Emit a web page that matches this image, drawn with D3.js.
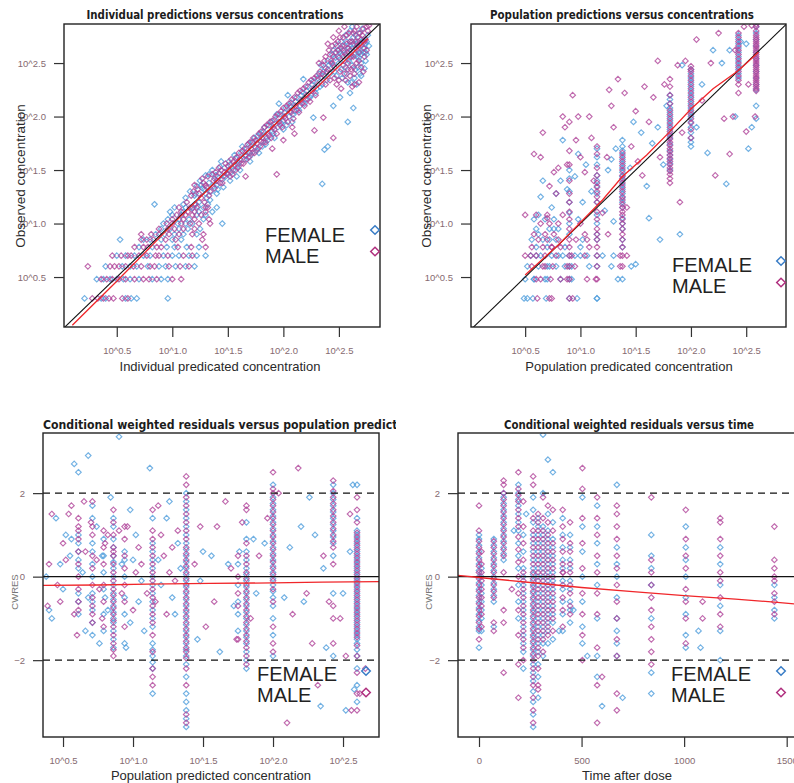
<!DOCTYPE html>
<html><head><meta charset="utf-8">
<script src="https://cdn.jsdelivr.net/npm/d3@7"></script>
<style>body{margin:0;background:#fff} svg{display:block}</style>
</head><body><svg id="c" width="794" height="783"></svg>
<script>
// ---------- data (log10 concentrations, CWRES, time after dose) ----------
const SEXES = ["FEMALE", "MALE"];
const LOG_TICKS = [0.5, 1.0, 1.5, 2.0, 2.5];
const CWRES_TICKS = [-2, 0, 2];
const TIME_TICKS = [0, 500, 1000, 1500];

// Individual predictions vs observed: low observations come in integer steps (rows: [logObs, [logIpred...]])
const indivRowsFemale = [
  [0.30,[0.21,0.36,0.40,0.58,0.63,0.68,0.96]],
  [0.48,[0.32,0.38,0.44,0.50,0.56,0.62,0.70,0.82,0.90,0.96]],
  [0.60,[0.40,0.55,0.62,0.68,0.78,0.88,0.94,1.03,1.12,1.20]],
  [0.70,[0.50,0.58,0.66,0.74,0.80,0.92,1.00,1.06,1.15,1.22,1.30]],
  [0.78,[0.70,0.82,0.95,1.02,1.13,1.24]],
  [0.85,[0.53,0.74,0.80,0.90,1.00,1.08]],
  [0.90,[0.85,0.93,1.02,1.10,1.22]],
  [0.95,[0.90,0.98,1.06,1.14,1.25]],
  [1.00,[0.92,1.05,1.12,1.18,1.45]],
  [1.04,[0.96,1.06,1.15,1.28]],
  [1.08,[1.00,1.08,1.22,1.30]],
  [1.11,[0.98,1.10,1.24,1.36]],
  [1.15,[1.02,1.12,1.18,1.28,1.40]],
  [1.18,[0.84,1.10,1.20,1.32]]
];
const indivRowsMale = [
  [0.30,[0.28,0.33,0.38,0.43,0.47,0.55,0.60]],
  [0.48,[0.36,0.41,0.46,0.52,0.58,0.66,0.74,0.79,0.86,1.00,1.08]],
  [0.60,[0.24,0.44,0.48,0.52,0.58,0.65,0.72,0.80,0.84,0.97,1.07,1.15]],
  [0.70,[0.46,0.54,0.60,0.63,0.70,0.77,0.85,0.88,0.96,1.10,1.18]],
  [0.78,[0.66,0.74,0.78,0.86,0.90,1.05,1.17,1.30]],
  [0.85,[0.72,0.77,0.83,0.94,1.03,1.27]],
  [0.90,[0.72,0.81,0.88,0.97,1.06,1.18,1.28]],
  [0.95,[0.88,0.96,1.02,1.10,1.20]],
  [1.00,[0.95,1.00,1.08,1.16,1.24,1.34]],
  [1.04,[1.00,1.10,1.20,1.33]],
  [1.08,[1.04,1.12,1.18,1.26]],
  [1.11,[1.08,1.14,1.20,1.30]],
  [1.15,[1.06,1.16,1.22,1.32]]
];
// [logIpred, logObs]
const indivFemale = [
  [1.20,1.26],[1.22,1.35],[1.24,1.20],[1.25,1.40],[1.27,1.33],[1.30,1.28],[1.30,1.45],[1.33,1.38],[1.34,1.22],[1.35,1.30],
  [1.36,1.50],[1.38,1.42],[1.40,1.36],[1.40,1.28],[1.42,1.47],[1.44,1.58],[1.45,1.41],[1.46,1.34],[1.47,1.52],[1.50,1.46],
  [1.52,1.55],[1.52,1.40],[1.55,1.50],[1.57,1.61],[1.58,1.44],[1.60,1.57],[1.62,1.66],[1.65,1.60],[1.67,1.70],[1.70,1.66],
  [1.70,1.58],[1.72,1.76],[1.75,1.71],[1.77,1.82],[1.78,1.66],[1.80,1.77],[1.82,1.86],[1.84,1.74],[1.85,1.80],[1.87,1.92],
  [1.90,1.86],[1.92,1.97],[1.92,1.80],[1.95,1.90],[1.96,2.12],[1.97,2.02],[2.00,1.96],[2.00,1.88],[2.02,2.08],[2.04,2.20],
  [2.05,2.00],[2.07,2.13],[2.08,1.95],[2.10,2.05],[2.12,2.18],[2.15,2.10],[2.17,2.23],[2.18,2.35],[2.20,2.16],[2.22,2.28],
  [2.25,2.20],[2.27,2.33],[2.27,1.99],[2.30,2.26],[2.32,2.40],[2.35,2.30],[2.35,1.37],[2.37,1.69],[2.40,1.72],[2.45,2.10],
  [2.51,2.18],[2.58,1.95],[2.63,2.08],[2.60,2.22],
  [2.38,2.45],[2.40,2.52],[2.42,2.40],[2.44,2.58],[2.45,2.48],[2.47,2.55],[2.48,2.38],[2.50,2.62],[2.50,2.50],[2.52,2.44],
  [2.53,2.58],[2.55,2.66],[2.55,2.52],[2.57,2.40],[2.58,2.60],[2.60,2.70],[2.60,2.55],[2.62,2.48],[2.62,2.64],[2.63,2.74],
  [2.64,2.58],[2.65,2.44],[2.66,2.68],[2.67,2.62],[2.68,2.55],[2.68,2.78],[2.70,2.66],[2.70,2.50],[2.72,2.72],[2.72,2.60],
  [2.73,2.45],[2.74,2.68],[2.75,2.58],[2.76,2.76],[2.58,2.32],[2.64,2.36],[2.70,2.38],[2.66,2.30],[2.52,2.70],[2.56,2.76],
  [2.60,2.80],[2.48,2.66],[2.45,2.62],[2.43,2.50],[2.36,2.42],[2.34,2.48],[2.62,2.84],[2.71,2.82],[2.69,2.40],[2.74,2.52],
  [1.12,1.24],[1.16,1.30],[1.18,1.14],[1.21,1.28],[1.23,1.16],[1.26,1.36],[1.29,1.32],[1.31,1.24],[1.33,1.46],[1.37,1.35],
  [1.39,1.45],[1.41,1.32],[1.43,1.53],[1.48,1.44],[1.51,1.58],[1.53,1.48],[1.56,1.64],[1.59,1.55],[1.61,1.50],[1.63,1.72],
  [1.66,1.63],[1.69,1.75],[1.71,1.64],[1.74,1.80],[1.76,1.68],[1.79,1.84],[1.81,1.72],[1.83,1.90],[1.86,1.78],[1.89,1.95],
  [1.91,1.84],[1.94,2.02],[1.98,1.94],[2.01,2.04],[2.03,1.92],[2.06,2.10],[2.09,2.02],[2.11,2.14],[2.14,2.06],[2.16,2.20],
  [2.19,2.12],[2.21,2.24],[2.24,2.18],[2.26,2.30],[2.29,2.22],[2.31,2.36],[2.33,2.28],[2.37,2.38],[2.39,2.34],[2.41,2.48],
  [2.46,2.42],[2.49,2.56],[2.51,2.60],[2.54,2.62],[2.57,2.70],[2.59,2.64],[2.61,2.58],[2.63,2.68],[2.65,2.76],[2.67,2.70],
  [2.69,2.60],[2.71,2.70],[2.73,2.64],[2.75,2.70],[2.77,2.66],[2.56,2.46],[2.59,2.52],[2.66,2.56],[2.53,2.36],[2.61,2.32],
  [2.70,2.58],[2.67,2.46],[2.74,2.60]
];
const indivMale = [
  [1.19,1.30],[1.21,1.18],[1.23,1.32],[1.26,1.24],[1.28,1.38],[1.29,1.20],[1.31,1.34],[1.32,1.44],[1.34,1.30],[1.37,1.40],
  [1.38,1.33],[1.39,1.48],[1.41,1.44],[1.43,1.38],[1.44,1.50],[1.46,1.44],[1.48,1.56],[1.49,1.47],[1.51,1.50],[1.53,1.60],
  [1.54,1.46],[1.56,1.55],[1.58,1.62],[1.59,1.52],[1.61,1.60],[1.63,1.68],[1.64,1.56],[1.66,1.64],[1.68,1.74],[1.69,1.62],
  [1.71,1.70],[1.73,1.80],[1.74,1.66],[1.76,1.75],[1.78,1.84],[1.79,1.72],[1.81,1.80],[1.83,1.90],[1.84,1.76],[1.86,1.84],
  [1.88,1.95],[1.89,1.80],[1.91,1.90],[1.93,2.00],[1.94,1.84],[1.96,1.95],[1.98,2.05],[1.99,1.90],[2.01,2.00],[2.03,2.10],
  [2.04,1.95],[2.06,2.05],[2.08,2.16],[2.09,1.98],[2.11,2.10],[2.13,2.22],[2.14,2.04],[2.16,2.15],[2.18,2.26],[2.19,2.10],
  [2.21,2.20],[2.23,2.32],[2.24,2.14],[2.26,2.24],[2.28,2.36],[2.29,2.20],[2.31,2.30],[2.33,2.42],[2.08,1.90],[1.94,1.46],
  [2.28,1.87],[2.45,1.80],[2.36,1.99],[2.10,1.84],[1.90,1.70],[1.30,1.15],[1.66,1.44],[2.00,1.78],
  [2.36,2.48],[2.38,2.56],[2.40,2.44],[2.41,2.62],[2.43,2.52],[2.44,2.66],[2.46,2.46],[2.47,2.60],[2.49,2.70],[2.50,2.55],
  [2.51,2.42],[2.52,2.64],[2.54,2.74],[2.54,2.48],[2.56,2.58],[2.57,2.68],[2.58,2.50],[2.59,2.78],[2.60,2.62],[2.61,2.44],
  [2.62,2.70],[2.63,2.56],[2.64,2.80],[2.65,2.64],[2.66,2.50],[2.67,2.74],[2.68,2.60],[2.69,2.68],[2.70,2.46],[2.71,2.76],
  [2.72,2.64],[2.73,2.56],[2.74,2.72],[2.75,2.62],[2.76,2.80],[2.77,2.85],[2.56,2.34],[2.62,2.28],[2.68,2.32],[2.52,2.26],
  [2.46,2.36],[2.50,2.80],[2.45,2.74],[2.40,2.68],[2.55,2.84],[2.66,2.84],[2.60,2.38],[2.72,2.42],[2.48,2.30],[2.42,2.34],
  [2.64,2.40],[2.35,2.40],[2.32,2.50],[2.38,2.30],
  [1.13,1.20],[1.17,1.26],[1.20,1.36],[1.24,1.28],[1.27,1.42],[1.30,1.36],[1.33,1.26],[1.36,1.46],[1.40,1.40],[1.42,1.52],
  [1.45,1.38],[1.47,1.48],[1.50,1.54],[1.52,1.44],[1.55,1.58],[1.57,1.50],[1.60,1.66],[1.62,1.56],[1.65,1.70],[1.67,1.60],
  [1.70,1.76],[1.72,1.66],[1.75,1.78],[1.77,1.70],[1.80,1.86],[1.82,1.76],[1.85,1.92],[1.87,1.82],[1.90,1.96],[1.92,1.88],
  [1.95,2.02],[1.97,1.92],[2.00,2.08],[2.02,1.98],[2.05,2.12],[2.07,2.04],[2.10,2.18],[2.12,2.06],[2.15,2.24],[2.17,2.12],
  [2.20,2.28],[2.22,2.16],[2.25,2.34],[2.27,2.26],[2.30,2.38],[2.34,2.36],[2.37,2.52],[2.39,2.42],[2.42,2.58],[2.44,2.50],
  [2.47,2.68],[2.49,2.62],[2.51,2.74],[2.53,2.66],[2.55,2.60],[2.57,2.76],[2.58,2.64],[2.60,2.70],[2.61,2.56],[2.63,2.78],
  [2.65,2.70],[2.67,2.66],[2.69,2.78],[2.70,2.72],[2.72,2.82],[2.73,2.70],[2.75,2.84],[2.58,2.44],[2.63,2.46],[2.55,2.40],
  [2.68,2.52],[2.64,2.30],[2.50,2.34],[2.45,2.56],[2.54,2.56]
];
const indivSmoothX = [0.10, 0.50, 1.00, 1.50, 2.00, 2.30, 2.50, 2.76];
const indivSmoothY = [0.05, 0.46, 0.99, 1.50, 2.00, 2.27, 2.47, 2.73];

// Population predictions vs observed
// low observations in integer steps: [logObs, [logPred...]]
const popRowsFemale = [
  [0.30,[0.49,0.57,0.69,0.97,1.15]],
  [0.48,[0.50,0.58,0.68,0.82,0.92,1.34,1.38]],
  [0.60,[0.52,0.62,0.70,0.78,0.92,1.28,1.46]],
  [0.70,[0.55,0.64,0.74,0.84,0.95,1.06,1.30]],
  [0.78,[0.60,0.70,0.86,1.00]],
  [0.85,[0.56,0.66,0.78,1.02]],
  [0.95,[0.60,0.72,0.80]],
  [1.04,[0.58,0.68,0.76,0.98]]
];
const popRowsMale = [
  [0.30,[0.61,0.72,0.74,0.93]],
  [0.48,[0.64,0.73,0.88,1.06,1.14]],
  [0.60,[0.56,0.66,0.75,0.88,0.95,1.36]],
  [0.70,[0.50,0.60,0.68,0.78,0.92,1.04,1.36,1.42]],
  [0.78,[0.56,0.66,0.74,0.82,1.08]],
  [0.85,[0.62,0.70,0.80,0.96]],
  [0.90,[0.58,0.68,0.76,1.04,1.25]],
  [1.00,[0.64,0.72,0.80,1.00]],
  [1.08,[0.60,0.70,0.84]]
];
// columns [logPred, female logObs, male logObs]
const popColumns = [
  [0.90,[0.30,0.48,0.60,0.70,0.90,1.00,1.10,1.20,1.30,1.42,1.50],[0.30,0.48,0.60,0.70,0.78,0.85,0.95,1.04,1.11,1.20,1.28,1.40,1.55,1.68,1.95]],
  [1.15,[0.30,0.60,0.70,0.85,0.90,1.00,1.08,1.20,1.28,1.35,1.40,1.45,1.55,1.62,1.70],[0.48,0.60,0.70,0.78,0.85,0.90,0.95,1.04,1.11,1.20,1.25,1.30,1.34,1.38,1.45,1.52,1.65,1.72]],
  [1.38,[0.78,0.85,0.95,1.00,1.05,1.15,1.20,1.24,1.28,1.32,1.36,1.40,1.44,1.48,1.52,1.56,1.60,1.64,1.68,1.72,1.78],[0.60,0.70,0.78,0.85,0.90,0.95,1.00,1.04,1.08,1.11,1.15,1.18,1.22,1.25,1.30,1.34,1.38,1.42,1.45,1.50,1.54,1.58,1.62,1.66]],
  [1.81,[1.50,1.56,1.60,1.64,1.68,1.74,1.80,1.84,1.88,1.92,1.96,2.00,2.04,2.08,2.12,2.16,2.20],[1.38,1.42,1.46,1.49,1.52,1.55,1.58,1.61,1.64,1.67,1.70,1.73,1.76,1.79,1.82,1.86,1.90,1.94,1.98,2.02,2.06,2.12,2.20,2.28,2.35]],
  [2.00,[1.72,1.76,1.80,1.85,1.90,1.95,2.00,2.04,2.08,2.12,2.16,2.20,2.24,2.28,2.32,2.36,2.40,2.44],[1.80,1.88,1.94,1.98,2.02,2.06,2.10,2.14,2.18,2.22,2.26,2.30,2.34,2.38,2.42,2.44,2.47]],
  [2.43,[2.36,2.40,2.44,2.48,2.52,2.56,2.60,2.64,2.68,2.72,2.76],[2.22,2.30,2.34,2.38,2.42,2.46,2.50,2.54,2.58,2.62,2.66,2.70,2.74,2.78]],
  [2.59,[1.98,2.10,2.25,2.30,2.36,2.42,2.48,2.54,2.60,2.66,2.72,2.78,2.84],[2.24,2.26,2.28,2.30,2.32,2.34,2.36,2.38,2.40,2.42,2.44,2.46,2.48,2.50,2.52,2.54,2.56,2.58,2.60,2.62,2.64,2.66,2.68,2.70,2.72,2.74,2.76,2.80,2.84,2.86]]
];
const popFemale = [
  [0.52,0.30],[0.58,0.48],[0.60,0.70],[0.62,0.90],[0.62,1.08],[0.64,1.25],[0.66,1.40],[0.70,0.48],[0.72,0.60],[0.72,0.85],
  [0.74,1.15],[0.76,0.95],[0.78,1.28],[0.80,0.70],[0.82,1.40],[0.84,1.78],[0.86,0.60],[0.88,1.32],[0.95,1.44],[0.98,1.65],
  [1.00,0.70],[1.02,1.20],[1.05,1.55],[1.08,0.60],[1.10,1.30],[1.20,0.70],[1.22,1.12],[1.25,1.50],[1.28,1.60],[1.30,1.02],
  [1.32,1.70],[1.45,1.52],[1.48,1.95],[1.50,0.62],[1.55,1.85],[1.60,1.35],[1.62,1.05],[1.65,1.75],[1.70,1.90],[1.72,0.85],
  [1.75,1.55],[1.78,2.10],[1.90,0.90],[1.92,2.48],[2.05,1.90],[2.10,2.30],[2.15,1.66],[2.20,2.62],[2.28,2.50],[2.32,1.37],
  [2.35,2.62],[2.40,2.00],[2.50,2.68],[2.52,1.70],[2.55,1.90],[2.45,2.70]
];
const popMale = [
  [0.50,1.08],[0.55,0.70],[0.58,1.65],[0.60,0.48],[0.64,1.62],[0.66,1.85],[0.68,0.60],[0.70,1.05],
  [0.72,1.35],[0.74,0.78],[0.76,1.48],[0.78,1.28],[0.80,1.52],[0.82,0.48],[0.84,2.00],[0.86,1.90],[0.88,1.55],[0.93,2.20],
  [0.96,1.78],[0.98,2.00],[1.00,1.62],[1.04,1.48],[1.06,0.85],[1.08,2.00],[1.10,1.80],[1.12,1.40],[1.20,1.10],[1.24,1.62],
  [1.26,2.25],[1.28,2.10],[1.30,1.90],[1.34,2.35],[1.40,2.22],[1.42,1.15],[1.46,1.72],[1.50,2.05],[1.52,1.58],[1.56,1.45],
  [1.58,2.28],[1.62,1.95],[1.66,2.18],[1.70,2.52],[1.72,1.62],[1.76,2.30],[1.88,2.48],[1.90,1.20],[1.92,1.85],[1.95,2.52],
  [2.05,2.72],[2.10,2.15],[2.18,2.50],[2.22,1.45],[2.25,2.78],[2.30,1.98],[2.35,1.65],[2.38,2.00],[2.40,2.62],[2.48,2.84],
  [2.50,1.86],[2.52,2.30],[2.55,2.85],[2.58,2.00]
];
const popSmoothX = [0.50, 0.80, 1.00, 1.20, 1.38, 1.60, 1.80, 2.00, 2.20, 2.43, 2.61];
const popSmoothY = [0.52, 0.80, 1.01, 1.22, 1.44, 1.64, 1.85, 2.07, 2.26, 2.43, 2.60];

// CWRES vs population prediction: columns [logPred, female CWRES, male CWRES]
const cwPredColumns = [
  [0.61,[-0.9,-0.6,-0.4,0.2,0.4,0.6,0.8,1.0,2.5],[-0.8,-0.6,-0.3,0.0,0.3,0.6,0.9,1.1,1.2,1.4]],
  [0.71,[-1.4,-1.1,-0.8,-0.6,-0.4,0.0,0.3,0.6,0.8,1.4,1.7],[-1.1,-0.9,-0.7,-0.5,-0.2,0.2,0.5,1.0,1.2,1.8]],
  [0.79,[-1.3,-0.9,-0.3,0.1,0.5,0.9],[-1.2,-0.6,-0.2,0.3,0.7,1.1]],
  [0.86,[-1.7,-1.5,-1.3,-1.1,-1.0,-0.85,-0.7,-0.55,-0.4,-0.2,0.0,0.2,0.35,0.5,0.7,0.9,1.2,1.4],[-1.9,-1.75,-1.6,-1.4,-1.2,-1.05,-0.9,-0.75,-0.6,-0.45,-0.3,-0.1,0.1,0.3,0.5,0.7,1.0,1.3,1.6]],
  [0.94,[-1.6,-0.9,-0.5,0.0,0.4,0.6],[-1.2,-0.6,-0.2,0.2,0.5,0.9,1.2]],
  [1.14,[-2.8,-2.2,-2.05,-1.9,-1.75,-1.6,-1.2,-1.0,-0.8,-0.6,-0.4,-0.2,0.0,0.2,0.4,0.6,0.8,1.4],[-2.6,-2.4,-2.2,-1.8,-1.4,-1.1,-0.9,-0.7,-0.5,-0.3,-0.1,0.1,0.3,0.5,0.7,0.9,1.1,1.6]],
  [1.38,[-3.6,-3.4,-3.2,-3.0,-2.8,-2.4,-2.1,-1.9,-1.75,-1.6,-1.45,-1.3,-1.15,-1.0,-0.85,-0.7,-0.55,-0.4,-0.25,-0.1,0.05,0.2,0.35,0.5,0.65,0.8,1.0,1.2,1.4,1.6,1.8,2.0],[-3.5,-3.3,-2.6,-2.2,-1.95,-1.8,-1.7,-1.55,-1.4,-1.25,-1.1,-0.95,-0.8,-0.65,-0.5,-0.35,-0.2,-0.05,0.1,0.25,0.4,0.55,0.7,0.9,1.1,1.3,1.5,1.7,1.9,2.2,2.4]],
  [1.75,[-1.3,-0.9,-0.6,-0.2,0.3],[-1.5,-0.7,-0.4,0.0,0.5]],
  [1.81,[-2.2,-2.0,-1.8,-1.6,-1.45,-1.3,-1.15,-1.0,-0.85,-0.7,-0.55,-0.4,-0.25,-0.1,0.05,0.2,0.4,0.6,0.9,1.3],[-2.1,-1.9,-1.7,-1.55,-1.4,-1.25,-1.1,-0.95,-0.8,-0.65,-0.5,-0.35,-0.2,-0.05,0.1,0.3,0.5,0.8,1.6,1.7]],
  [2.00,[-1.9,-1.4,-1.0,-0.7,-0.5,-0.35,-0.2,-0.05,0.1,0.25,0.4,0.55,0.7,0.85,1.0,1.15,1.3,1.45,1.6,1.75,1.9,2.2],[-1.8,-1.6,-1.2,-0.6,-0.3,-0.1,0.05,0.2,0.35,0.5,0.65,0.8,0.95,1.1,1.25,1.4,1.55,1.7,1.85,2.0,2.1,2.5]],
  [2.43,[-1.9,-0.4,0.5,0.8,0.95,1.1,1.25,1.4,1.55,1.7,1.85,2.0,2.2],[-1.6,-1.0,-0.7,0.3,0.7,0.85,1.0,1.15,1.3,1.45,1.6,1.75,1.9,2.05,2.3]],
  [2.60,[-3.0,-2.6,-2.2,-1.9,-1.75,-1.6,-1.5,-1.4,-1.3,-1.2,-1.1,-1.0,-0.9,-0.8,-0.7,-0.6,-0.5,-0.4,-0.3,-0.2,-0.1,0.0,0.1,0.2,0.3,0.4,0.5,0.6,0.7,0.8,0.9,1.0,1.1,1.4,2.2],
        [-3.2,-2.8,-2.3,-1.9,-1.65,-1.45,-1.35,-1.25,-1.15,-1.05,-0.95,-0.85,-0.75,-0.65,-0.55,-0.45,-0.35,-0.25,-0.15,-0.05,0.05,0.15,0.25,0.35,0.45,0.55,0.65,0.75,0.85,0.95,1.05,1.3,1.6,1.9]]
];
const cwPredFemale = [
  [0.38,0.0],[0.40,-0.8],[0.42,-1.0],[0.45,1.4],[0.48,0.3],[0.52,1.0],[0.55,0.5],[0.58,2.7],[0.66,-1.3],[0.68,2.9],
  [0.76,-1.6],[0.78,0.5],[0.80,-0.5],[0.84,1.9],[0.90,3.35],[0.95,-1.7],[0.98,1.6],[1.00,0.4],[1.04,-0.6],[1.08,-1.3],
  [1.12,2.6],[1.20,-0.2],[1.26,1.8],[1.28,-0.5],[1.32,0.8],[1.46,-1.5],[1.48,-0.1],[1.50,0.6],[1.56,0.5],[1.62,-1.8],
  [1.68,0.3],[1.72,-0.7],[1.76,0.6],[1.86,0.9],[1.88,-0.4],[1.94,0.8],[2.08,-0.5],[2.12,0.7],[2.20,1.2],[2.22,-0.6],
  [2.26,1.9],[2.30,1.0],[2.34,-3.1],[2.36,0.2],[2.38,-1.7],[2.50,-0.4],[2.52,-3.2],[2.55,0.6],[2.57,2.2],[2.58,-2.7],
  [0.50,-0.3],[0.56,0.9],[0.64,0.1],[0.68,-0.5],[0.74,1.2],[0.82,-0.8],[0.92,0.3],[0.98,-1.1],[1.02,1.0],[1.06,-0.1],
  [1.18,0.4],[1.24,1.4],[1.30,-0.9],[1.34,0.2]
];
const cwPredMale = [
  [0.39,-0.7],[0.40,0.3],[0.42,1.5],[0.46,-0.2],[0.50,0.8],[0.54,1.5],[0.56,1.7],[0.60,-1.4],[0.65,1.8],[0.74,0.4],
  [0.78,-1.0],[0.82,1.0],[0.86,0.6],[0.92,-0.4],[0.96,1.2],[1.02,0.1],[1.06,0.3],[1.10,-0.4],[1.18,1.7],[1.22,0.5],
  [1.24,-0.9],[1.28,0.7],[1.30,-0.1],[1.44,0.3],[1.48,1.2],[1.52,-1.2],[1.58,-0.6],[1.60,1.2],[1.66,1.8],[1.70,0.2],
  [1.74,-1.5],[1.78,1.3],[1.84,-1.0],[1.90,0.5],[1.96,1.4],[2.04,2.0],[2.10,-3.5],[2.14,-0.9],[2.18,2.6],[2.24,-0.4],
  [2.28,-1.6],[2.32,-2.6],[2.36,0.5],[2.40,-0.6],[2.48,-1.0],[2.52,-1.9],[2.55,1.5],[2.56,-3.2],[2.62,-2.8],[2.66,-2.2],
  [0.48,-0.6],[0.52,0.4],[0.58,-0.9],[0.66,0.6],[0.70,1.3],[0.76,-0.3],[0.80,0.8],[0.90,1.1],[1.00,-0.8],[1.04,0.7],
  [1.16,-0.6],[1.20,1.0],[1.26,0.1],[1.32,1.1]
];
const cwPredSmoothX = [0.357, 0.75, 1.10, 1.55, 2.00, 2.35, 2.757];
const cwPredSmoothY = [-0.21, -0.20, -0.18, -0.16, -0.15, -0.13, -0.12];

// CWRES vs time after dose: columns [time, female CWRES, male CWRES]
const cwTimeColumns = [
  [0,[-1.7,-1.3,-1.2,-1.05,-0.9,-0.75,-0.6,-0.45,-0.3,-0.15,0.0,0.15,0.3,0.45,0.6,0.75,0.9,1.0],[-1.5,-1.25,-1.1,-0.95,-0.8,-0.65,-0.5,-0.35,-0.2,-0.05,0.1,0.25,0.4,0.55,0.7,0.85,1.1,1.7]],
  [12,[-1.3,-1.0,-0.8,-0.6,-0.4,-0.2,0.0,0.2],[-1.2,-0.9,-0.7,-0.5,-0.3,-0.1,0.1,0.3,0.6]],
  [72,[-1.2,-0.6,-0.45,-0.3,-0.15,0.0,0.15,0.3,0.45,0.6,0.75,0.9],[-1.3,-1.1,-0.5,-0.35,-0.2,-0.05,0.1,0.25,0.4,0.55,0.7,0.85]],
  [120,[0.4,0.55,0.7,0.85,1.0,1.15,1.3,1.45,1.6,1.75,1.9,2.0],[-2.3,-1.1,-0.8,0.1,0.5,0.65,0.8,0.95,1.1,1.25,1.4,1.55,1.7,1.85,2.0,2.2,2.3]],
  [192,[-1.0,-0.6,-0.2,0.2,0.5,0.8,1.1,1.3,1.5,1.7,1.85,2.0,2.2],[-2.9,-2.1,-1.4,-0.8,-0.4,0.0,0.35,0.65,0.95,1.2,1.4,1.6,1.8,1.95,2.1,2.5]],
  [216,[-2.2,-1.8,-1.6,-1.4,-1.2,-1.0,-0.8,-0.6,-0.4,-0.2,0.0,0.2,0.6,1.0],[-2.0,-1.7,-1.5,-1.3,-1.1,-0.9,-0.7,-0.5,-0.3,-0.1,0.1,0.4,0.8,1.2,1.8]],
  [264,[-3.6,-3.3,-3.0,-2.75,-2.5,-2.3,-2.1,-1.9,-1.75,-1.6,-1.45,-1.3,-1.15,-1.0,-0.85,-0.7,-0.55,-0.4,-0.25,-0.1,0.05,0.2,0.4,0.6,0.8,1.0,1.3,1.6,1.9],
       [-3.5,-3.2,-2.9,-2.6,-2.4,-2.2,-2.0,-1.85,-1.7,-1.55,-1.4,-1.25,-1.1,-0.95,-0.8,-0.65,-0.5,-0.35,-0.2,-0.05,0.1,0.3,0.5,0.7,0.9,1.1,1.4,2.2,2.4]],
  [288,[-2.9,-2.4,-2.1,-1.8,-1.6,-1.4,-1.2,-1.0,-0.8,-0.6,-0.4,-0.2,0.0,0.2,0.4,0.6,0.8,1.0,1.2,1.4],[-2.7,-2.6,-2.2,-1.9,-1.7,-1.5,-1.3,-1.1,-0.9,-0.7,-0.5,-0.3,-0.1,0.1,0.3,0.5,0.7,0.9,1.1,1.3,1.5]],
  [312,[-1.9,-1.6,-1.4,-1.2,-1.0,-0.8,-0.6,-0.4,-0.2,0.0,0.2,0.4,0.6,0.8,1.0,1.2,2.0,3.4],[-1.8,-1.5,-1.3,-1.1,-0.9,-0.7,-0.5,-0.3,-0.1,0.1,0.3,0.5,0.7,0.9,1.1,1.4,1.9]],
  [336,[-1.6,-1.3,-1.1,-0.9,-0.7,-0.5,-0.3,-0.1,0.1,0.3,0.5,0.7,0.9,1.1,1.5,2.8],[-1.4,-1.2,-1.0,-0.8,-0.6,-0.4,-0.2,0.0,0.2,0.4,0.6,0.8,1.0,1.3,1.7]],
  [360,[-1.5,-1.1,-0.9,-0.7,-0.5,-0.3,-0.1,0.1,0.3,0.5,0.7,0.9,1.3,2.5],[-1.3,-1.0,-0.8,-0.6,-0.4,-0.2,0.0,0.2,0.4,0.6,0.8,1.1,1.6]],
  [408,[-1.3,-0.9,-0.6,-0.3,-0.1,0.2,0.4,0.7,1.0,1.4],[-1.2,-0.8,-0.5,-0.2,0.1,0.3,0.6,0.9,1.2,1.6]],
  [444,[-1.1,-0.8,-0.6,-0.3,-0.1,0.2,0.4,0.7,1.0],[-0.9,-0.7,-0.4,-0.2,0.1,0.3,0.6,0.8,1.3]],
  [504,[-1.6,-1.2,-0.6,0.0,0.6,1.2,1.9],[-2.0,-1.4,-0.9,-0.4,0.2,0.8,1.4,2.1,2.6]],
  [576,[-2.4,-1.9,-1.0,-0.2,0.3,0.8,1.2,1.7],[-3.5,-2.6,-1.7,-0.9,-0.4,0.1,0.5,1.0,1.4,1.9]],
  [672,[-1.9,-1.6,-1.3,-1.0,-0.5,0.0,0.3,0.7,2.2],[-3.2,-2.8,-1.9,-1.5,-1.0,-0.6,-0.2,0.2,0.5,0.9,1.2,1.5,1.7]],
  [840,[-2.8,-2.3,-1.0,-0.2,0.2,0.5,1.0],[-2.1,-1.8,-1.5,-1.2,-0.8,-0.5,-0.2,0.1,0.4,1.9]],
  [1008,[-1.7,-1.4,-0.9,-0.5,0.0,0.4,0.7,1.2],[-1.6,-1.0,-0.6,-0.3,0.2,0.5,0.9,1.6]],
  [1176,[-2.0,-1.3,-0.7,-0.2,0.3,0.7],[-1.2,-0.9,-0.5,-0.1,0.1,0.5,0.9,1.3,1.4]],
  [1440,[-1.0,-0.8,-0.5,-0.2],[-0.9,-0.6,-0.4,-0.1,0.0,0.2,0.4,1.2]]
];
const cwTimeFemale = [[600,-3.1],[700,-2.9],[1080,-1.7],[1070,-1.3],[528,-1.9],[170,1.1],[230,1.5],[390,-1.3],[460,-0.8]];
const cwTimeMale = [[1090,-1.0],[1090,-0.6],[600,-2.4],[160,-0.3],[410,0.1]];
const cwTimeSmoothX = [-102, 0, 250, 500, 750, 1000, 1250, 1440, 1560];
const cwTimeSmoothY = [0.03, -0.02, -0.14, -0.26, -0.36, -0.455, -0.54, -0.61, -0.66];

// ---------- helpers ----------
const rowsToPoints = rows => rows.flatMap(([y, xs]) => xs.map(x => [x, y]));
const colsToPoints = (cols, k) => cols.flatMap(c => c[k].map(y => [c[0], y]));
const zip = (xs, ys) => xs.map((x, i) => [x, ys[i]]);
const diamond = r => `M0,${-r}L${r},0L0,${r}L${-r},0Z`;

const FEMALE_COLOR = "#4f9ddc", MALE_COLOR = "#b0459a";
const LEGEND_COLORS = ["#3a7dc6", "#b0307f"];
const logFmt = d => "10^" + d3.format(".1f")(d);
const cwFmt = d => d3.format("d")(d);

const svg = d3.select("#c");
const defs = svg.append("defs");

function drawPanel(p) {
  const [bx0, by0, bx1, by1] = p.box;
  const x = d3.scaleLinear().domain(p.xDomain).range([bx0, bx1]);
  const y = d3.scaleLinear().domain(p.yDomain).range([by1, by0]);
  const clipId = "clip-" + p.id;
  defs.append("clipPath").attr("id", clipId).append("rect")
    .attr("x", bx0).attr("y", by0).attr("width", bx1 - bx0).attr("height", by1 - by0);
  const g = svg.append("g");
  const plot = g.append("g").attr("clip-path", `url(#${clipId})`);

  [[p.female, FEMALE_COLOR], [p.male, MALE_COLOR]].forEach(([pts, col]) => {
    plot.append("g").selectAll("path").data(pts).join("path")
      .attr("d", diamond(2.8))
      .attr("transform", d => `translate(${x(d[0])},${y(d[1])})`)
      .attr("fill", "none").attr("stroke", col).attr("stroke-width", 1.15).attr("stroke-opacity", 0.8);
  });

  if (p.identity) {
    const lo = Math.min(p.xDomain[0], p.yDomain[0]) - 1, hi = Math.max(p.xDomain[1], p.yDomain[1]) + 1;
    plot.append("line").attr("x1", x(lo)).attr("y1", y(lo)).attr("x2", x(hi)).attr("y2", y(hi))
      .attr("stroke", "#111").attr("stroke-width", 1.1);
  }
  if (p.hlines) {
    p.hlines.forEach(h => {
      plot.append("line").attr("x1", x(p.xDomain[0])).attr("x2", x(p.xDomain[1]))
        .attr("y1", y(h.v)).attr("y2", y(h.v))
        .attr("stroke", "#111").attr("stroke-width", h.dash ? 1.3 : 1.4)
        .attr("stroke-dasharray", h.dash ? "7,5" : null);
    });
  }
  plot.append("path").datum(p.smooth)
    .attr("d", d3.line().x(d => x(d[0])).y(d => y(d[1])))
    .attr("fill", "none").attr("stroke", "#f0262a").attr("stroke-width", 1.3);

  g.append("rect").attr("x", bx0).attr("y", by0).attr("width", bx1 - bx0).attr("height", by1 - by0)
    .attr("fill", "none").attr("stroke", "#222").attr("stroke-width", 1.4);

  const xa = g.append("g").attr("transform", `translate(0,${by1})`)
    .call(d3.axisBottom(x).tickValues(p.xTicks).tickFormat(p.xFmt).tickSize(10).tickPadding(10));
  const ya = g.append("g").attr("transform", `translate(${bx0},0)`)
    .call(d3.axisLeft(y).tickValues(p.yTicks).tickFormat(p.yFmt).tickSize(10).tickPadding(8));
  [xa, ya].forEach(a => {
    a.select(".domain").remove();
    a.selectAll(".tick line").attr("stroke", "#333").attr("stroke-width", 1.2);
    a.selectAll(".tick text").attr("fill", "#866a70").attr("font-family", "Liberation Sans, Arial, sans-serif")
      .attr("font-size", 9.5);
  });

  // y title; on the concentration panels its backing strip hides the first digit of the nearby tick labels
  const yl = g.append("g").attr("transform", `translate(${p.yLab.x},${p.yLab.y}) rotate(-90)`);
  if (p.yLab.boxed) {
    yl.append("rect").attr("x", -76).attr("y", -14).attr("width", 152).attr("height", 9).attr("fill", "#fff");
  }
  yl.append("text").attr("text-anchor", "middle")
    .attr("font-family", "Liberation Sans, Arial, sans-serif")
    .attr("font-size", p.yLab.size).attr("fill", p.yLab.color).text(p.yLab.text);

  const t = g.append("text").attr("x", p.title.x).attr("y", p.title.y)
    .attr("text-anchor", p.title.anchor || "middle")
    .attr("font-family", "DejaVu Sans, Verdana, sans-serif").attr("font-weight", "bold")
    .attr("font-size", 11.5).attr("fill", "#1c1c1c")
    .attr("textLength", p.title.len).attr("lengthAdjust", "spacingAndGlyphs")
    .text(p.title.text);
  if (p.title.clip) {
    defs.append("clipPath").attr("id", "tclip-" + p.id).append("rect")
      .attr("x", 0).attr("y", 0).attr("width", p.title.clip).attr("height", 783);
    t.attr("clip-path", `url(#tclip-${p.id})`);
  }
  g.append("text").attr("x", p.xLab.x).attr("y", p.xLab.y).attr("text-anchor", "middle")
    .attr("font-family", "Liberation Sans, Arial, sans-serif").attr("font-size", 13).attr("fill", "#2a2a2a")
    .text(p.xLab.text);

  // legend
  SEXES.forEach((s, i) => {
    g.append("text").attr("x", p.legend.x).attr("y", p.legend.y + i * 21)
      .attr("font-family", "Liberation Sans, Arial, sans-serif").attr("font-size", 20).attr("fill", "#222")
      .text(s);
    g.append("path").attr("d", diamond(4.3))
      .attr("transform", `translate(${p.legend.mx},${p.legend.my + i * 21.5})`)
      .attr("fill", "none").attr("stroke", LEGEND_COLORS[i]).attr("stroke-width", 1.5);
  });
}

drawPanel({
  id: "ipred", box: [64, 24, 380, 327], xDomain: [0.025, 2.87], yDomain: [0.033, 2.865],
  female: rowsToPoints(indivRowsFemale).concat(indivFemale),
  male: rowsToPoints(indivRowsMale).concat(indivMale),
  identity: true, smooth: zip(indivSmoothX, indivSmoothY),
  xTicks: LOG_TICKS, yTicks: LOG_TICKS, xFmt: logFmt, yFmt: logFmt,
  title: {text: "Individual predictions versus concentrations", x: 215, y: 19, len: 257},
  xLab: {text: "Individual predicated concentration", x: 220, y: 371},
  yLab: {text: "Observed concentration", x: 25, y: 176, size: 13.5, color: "#2a2a2a", boxed: true},
  legend: {x: 265, y: 242, mx: 375, my: 230}
});
drawPanel({
  id: "pred", box: [471, 24, 786, 327], xDomain: [0.01, 2.86], yDomain: [0.033, 2.865],
  female: rowsToPoints(popRowsFemale).concat(colsToPoints(popColumns, 1), popFemale),
  male: rowsToPoints(popRowsMale).concat(colsToPoints(popColumns, 2), popMale),
  identity: true, smooth: zip(popSmoothX, popSmoothY),
  xTicks: LOG_TICKS, yTicks: LOG_TICKS, xFmt: logFmt, yFmt: logFmt,
  title: {text: "Population predictions versus concentrations", x: 622, y: 19, len: 264},
  xLab: {text: "Population predicated concentration", x: 629, y: 371},
  yLab: {text: "Observed concentration", x: 431, y: 176, size: 13.5, color: "#2a2a2a", boxed: true},
  legend: {x: 672, y: 272, mx: 781, my: 261}
});
drawPanel({
  id: "cwpred", box: [43, 433, 379, 737], xDomain: [0.357, 2.757], yDomain: [-3.84, 3.44],
  female: colsToPoints(cwPredColumns, 1).concat(cwPredFemale),
  male: colsToPoints(cwPredColumns, 2).concat(cwPredMale),
  hlines: [{v: 0}, {v: 2, dash: true}, {v: -2, dash: true}], smooth: zip(cwPredSmoothX, cwPredSmoothY),
  xTicks: LOG_TICKS, yTicks: CWRES_TICKS, xFmt: logFmt, yFmt: cwFmt,
  title: {text: "Conditional weighted residuals versus population predictions", x: 43, y: 429, len: 380, anchor: "start", clip: 396},
  xLab: {text: "Population predicted concentration", x: 211, y: 780},
  yLab: {text: "CWRES", x: 18, y: 592, size: 9.5, color: "#777"},
  legend: {x: 257, y: 681, mx: 366, my: 671}
});
drawPanel({
  id: "cwtime", box: [458, 433, 799, 737], xDomain: [-102.4, 1560], yDomain: [-3.84, 3.44],
  female: colsToPoints(cwTimeColumns, 1).concat(cwTimeFemale),
  male: colsToPoints(cwTimeColumns, 2).concat(cwTimeMale),
  hlines: [{v: 0}, {v: 2, dash: true}, {v: -2, dash: true}], smooth: zip(cwTimeSmoothX, cwTimeSmoothY),
  xTicks: TIME_TICKS, yTicks: CWRES_TICKS, xFmt: d3.format("d"), yFmt: cwFmt,
  title: {text: "Conditional weighted residuals versus time", x: 629, y: 429, len: 250},
  xLab: {text: "Time after dose", x: 627, y: 780},
  yLab: {text: "CWRES", x: 432, y: 592, size: 9.5, color: "#777"},
  legend: {x: 671, y: 681, mx: 781, my: 671}
});
</script></body></html>
